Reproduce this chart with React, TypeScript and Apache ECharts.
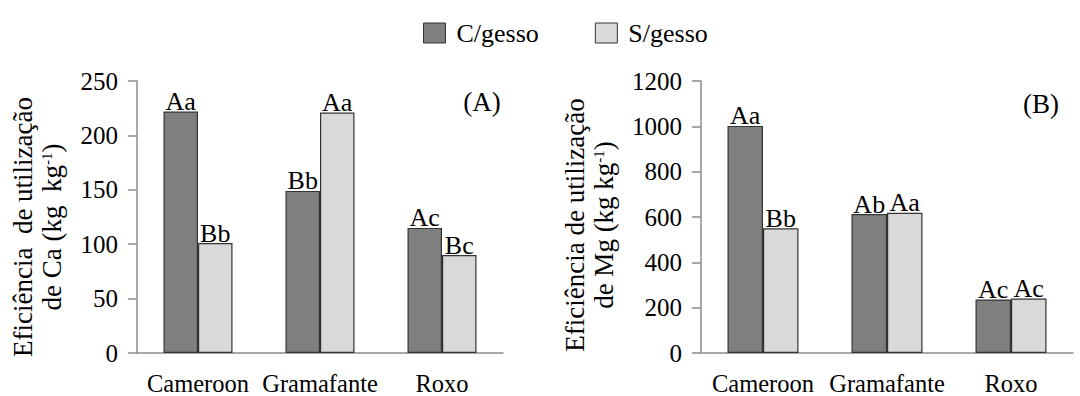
import React, { useEffect, useRef } from "react";
import * as echarts from "echarts";

const categories = ["Cameroon", "Gramafante", "Roxo"];
const seriesNames = ["C/gesso", "S/gesso"];
const caC = [222, 149, 115];
const caS = [101, 221, 90];
const caLabelsC = ["Aa", "Bb", "Ac"];
const caLabelsS = ["Bb", "Aa", "Bc"];
const mgC = [1002, 613, 236];
const mgS = [550, 619, 240];
const mgLabelsC = ["Aa", "Ab", "Ac"];
const mgLabelsS = ["Bb", "Aa", "Ac"];
const colors = ["#7f7f7f", "#d9d9d9"];

const FONT = "Liberation Serif";

export default function App() {
  const ref = useRef<HTMLDivElement>(null);
  useEffect(() => {
    if (!ref.current) return;
    const chart = echarts.init(ref.current, undefined, { renderer: "svg" });
    const yAxisCommon = {
      type: "value",
      axisLine: { show: true, lineStyle: { color: "#8c8c8c", width: 1.5 } },
      axisTick: { show: true, inside: false, length: 9, lineStyle: { color: "#8c8c8c", width: 1.5 } },
      splitLine: { show: false },
      axisLabel: {
        color: "#000",
        fontFamily: FONT,
        fontSize: 25,
        margin: 19,
        formatter: (v: number) => String(v),
      },
    };
    const xAxisCommon = {
      type: "category",
      data: categories,
      axisLine: { show: true, lineStyle: { color: "#8c8c8c", width: 1.5 } },
      axisTick: { show: false },
      axisLabel: { color: "#000", fontFamily: FONT, fontSize: 24.5, margin: 18, interval: 0 },
    };
    const mkSeries = (
      name: string,
      data: number[],
      labels: string[],
      idx: number,
      color: string,
      width: number
    ) => ({
      type: "bar",
      name,
      xAxisIndex: idx,
      yAxisIndex: idx,
      data,
      barWidth: width,
      barGap: "0%",
      itemStyle: { color, borderColor: "#333", borderWidth: 1.2 },
      label: {
        show: true,
        position: "top",
        distance: -3,
        color: "#000",
        fontFamily: FONT,
        fontSize: 26,
        formatter: (p: any) => labels[p.dataIndex],
      },
    });
    const supRich = { sup: { fontSize: 15, fontFamily: FONT, padding: [0, 0, 10, 0] } };
    chart.setOption({
      animation: false,
      backgroundColor: "#fff",
      textStyle: { fontFamily: FONT },
      legend: {
        data: seriesNames,
        left: 418,
        top: 15,
        icon: "rect",
        itemWidth: 22,
        itemHeight: 20,
        itemGap: 56,
        itemStyle: { borderColor: "#333", borderWidth: 1 },
        textStyle: { color: "#000", fontFamily: FONT, fontSize: 26, padding: [0, 0, 0, 6] },
      },
      grid: [
        { left: 137, top: 81, width: 366, height: 273 },
        { left: 701, top: 81, width: 372, height: 273 },
      ],
      xAxis: [
        { ...xAxisCommon, gridIndex: 0 },
        { ...xAxisCommon, gridIndex: 1 },
      ],
      yAxis: [
        { ...yAxisCommon, gridIndex: 0, min: 0, max: 250, interval: 50 },
        { ...yAxisCommon, gridIndex: 1, min: 0, max: 1200, interval: 200 },
      ],
      series: [
        mkSeries(seriesNames[0], caC, caLabelsC, 0, colors[0], 34.5),
        mkSeries(seriesNames[1], caS, caLabelsS, 0, colors[1], 34.5),
        mkSeries(seriesNames[0], mgC, mgLabelsC, 1, colors[0], 35.5),
        mkSeries(seriesNames[1], mgS, mgLabelsS, 1, colors[1], 35.5),
      ],
      graphic: [
        {
          type: "text",
          x: 37,
          y: 227,
          rotation: Math.PI / 2,
          style: {
            text: "Eficiência  de utilização\nde Ca (kg  kg{sup|-1})",
            fontFamily: FONT,
            fontSize: 27,
            fill: "#000",
            align: "center",
            verticalAlign: "middle",
            lineHeight: 29,
            rich: supRich,
          },
        },
        {
          type: "text",
          x: 589,
          y: 225,
          rotation: Math.PI / 2,
          style: {
            text: "Eficiência de utilização\nde Mg (kg kg{sup|-1})",
            fontFamily: FONT,
            fontSize: 27,
            fill: "#000",
            align: "center",
            verticalAlign: "middle",
            lineHeight: 29,
            rich: supRich,
          },
        },
        {
          type: "text",
          x: 482,
          y: 102,
          style: { text: "(A)", fontFamily: FONT, fontSize: 27, fill: "#000", align: "center", verticalAlign: "middle" },
        },
        {
          type: "text",
          x: 1041,
          y: 104,
          style: { text: "(B)", fontFamily: FONT, fontSize: 27, fill: "#000", align: "center", verticalAlign: "middle" },
        },
      ],
    });
    return () => chart.dispose();
  }, []);
  return <div ref={ref} style={{ width: 1080, height: 396, position: "absolute", left: 0, top: 0 }} />;
}
